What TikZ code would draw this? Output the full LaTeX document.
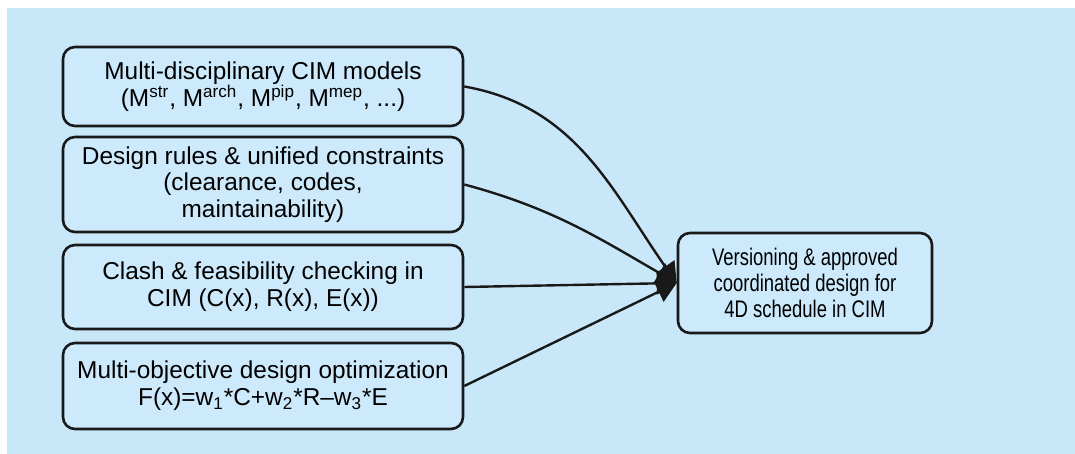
\documentclass[tikz,border=0pt]{standalone}
\usepackage{fontspec}
\setmainfont{Liberation Sans}
\newfontfamily\narrowsans[FakeStretch=0.77]{Liberation Sans}
\usetikzlibrary{arrows.meta}
\definecolor{bgblue}{RGB}{200,232,250}
\definecolor{boxblue}{RGB}{204,234,251}
\definecolor{inkline}{RGB}{25,25,25}

\begin{document}
\begin{tikzpicture}[x=0.5pt, y=-0.5pt,
    stage/.style={draw=inkline, line width=1.3pt, rounded corners=6pt, fill=boxblue,
        minimum width=200pt, inner sep=0pt, align=center,
        font=\fontsize{12.2}{13.4}\selectfont},
    link/.style={draw=inkline, line width=1.2pt, -{Triangle[length=10pt,width=11pt]}}]
    % Hintergrund
    \useasboundingbox (0,0) rectangle (1075,454);
    \fill[bgblue] (7,8) rectangle (1075,454);
    % Eingaben
    \node[stage, minimum height=39.5pt] (models) at (263,86.5)
        {Multi-disciplinary CIM models\\(M\textsuperscript{str}, M\textsuperscript{arch}, M\textsuperscript{pip}, M\textsuperscript{mep}, ...)};
    \node[stage, minimum height=47.5pt] (rules) at (263,184.5)
        {Design rules \& unified constraints\\(clearance, codes,\\maintainability)};
    \node[stage, minimum height=42pt] (clash) at (263,287)
        {Clash \& feasibility checking in\\CIM (C(x), R(x), E(x))};
    \node[stage, minimum height=43pt] (optim) at (263,386)
        {Multi-objective design optimization\\F(x)=w\textsubscript{1}*C+w\textsubscript{2}*R--w\textsubscript{3}*E};
    % Ergebnis
    \node[stage, minimum width=127pt, minimum height=50pt,
        font=\narrowsans\fontsize{12}{13.2}\selectfont] (approved) at (805,283)
        {Versioning \& approved\\coordinated design for\\4D schedule in CIM};
    % Pfeile
    \draw[link] (models.east) to[out=-10, in=125] (approved.west);
    \draw[link] (rules.east) to[out=-15, in=150] (approved.west);
    \draw[link] (clash.east) -- (approved.west);
    \draw[link] (optim.east) -- (approved.west);
\end{tikzpicture}
\end{document}
